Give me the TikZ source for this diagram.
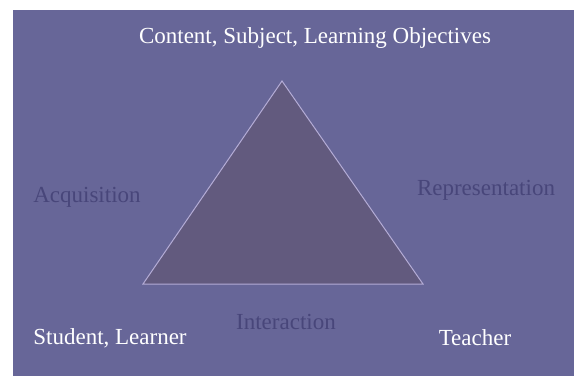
\documentclass[tikz,border=0pt]{standalone}
\usepackage{fontspec}
\setmainfont{Liberation Serif}
\usepackage{tikz}
\definecolor{slide}{HTML}{676698}
\definecolor{tri}{HTML}{625A7E}
\definecolor{edge}{HTML}{B4ACD6}
\definecolor{dim}{HTML}{48467A}
\tikzset{
	corner/.style={text=white, inner sep=0pt},
	side/.style={text=dim, inner sep=0pt}
}

\begin{document}
\begin{tikzpicture}[x=1pt, y=-1pt, font=\fontsize{23}{27}\selectfont]
	%\draw [help lines] (0,0) grid (574,376);
	\useasboundingbox (0,0) rectangle (574,376);
	%Sfondo
	\fill[white] (0,0) rectangle (574,376);
	\fill[slide] (13,10) rectangle (574,376);
	%Triangolo
	\coordinate (top) at (282,81);
	\coordinate (left) at (143,284);
	\coordinate (right) at (423,284);
	\filldraw[fill=tri, draw=edge, line width=1pt, line join=miter] (top) -- (left) -- (right) -- cycle;
	%Vertici
	\node [corner] (content) at (315,38) {Content, Subject, Learning Objectives};
	\node [corner] (student) at (110,338) {Student, Learner};
	\node [corner] (teacher) at (475,338) {Teacher};
	%Lati
	\node [side] (acq) at (87,197) {Acquisition};
	\node [side] (rep) at (486,190) {Representation};
	\node [side] (inter) at (286,322) {Interaction};
\end{tikzpicture}
\end{document}
